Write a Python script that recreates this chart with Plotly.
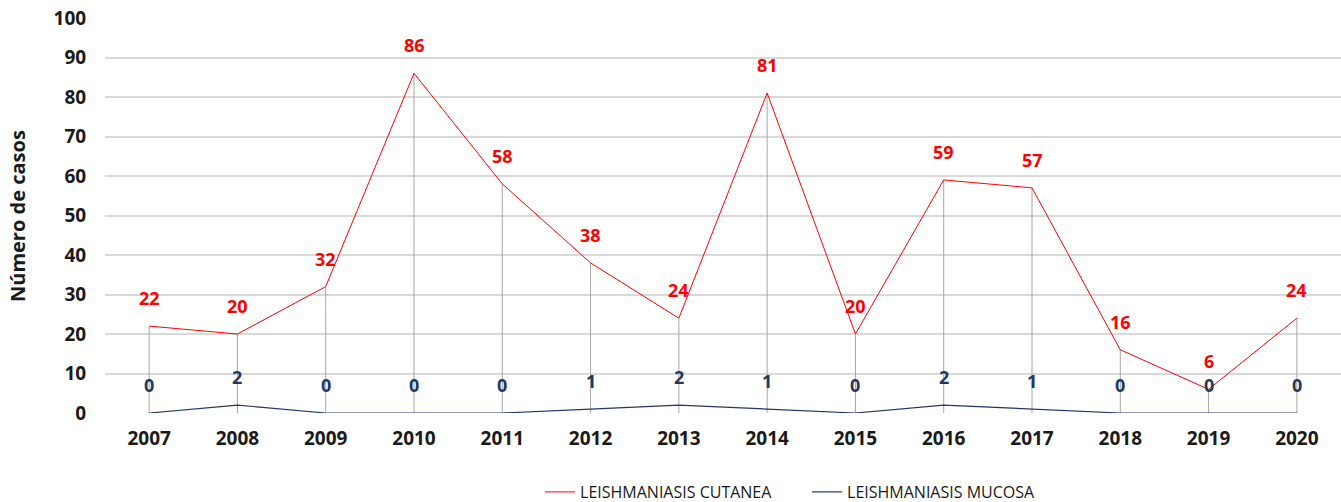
import plotly.graph_objects as go

years = ["2007", "2008", "2009", "2010", "2011", "2012", "2013", "2014",
         "2015", "2016", "2017", "2018", "2019", "2020"]
cutanea = [22, 20, 32, 86, 58, 38, 24, 81, 20, 59, 57, 16, 6, 24]
mucosa = [0, 2, 0, 0, 0, 1, 2, 1, 0, 2, 1, 0, 0, 0]
y_ticks = [0, 10, 20, 30, 40, 50, 60, 70, 80, 90, 100]

RED = "#ff0000"
NAVY = "#1f3864"
FONT = "Open Sans"
TXT = "#1a1a1a"
CLEAR = "rgba(0,0,0,0)"

xs = list(range(len(years)))

fig = go.Figure()

# drop lines
dx, dy = [], []
for i, (a, b) in enumerate(zip(cutanea, mucosa)):
    dx += [i, i, None]
    dy += [0, max(a, b), None]
fig.add_trace(go.Scatter(x=dx, y=dy, mode="lines", line=dict(color="#a6a6a6", width=1),
                         showlegend=False, hoverinfo="skip"))

fig.add_trace(go.Scatter(x=xs, y=cutanea, mode="lines", name="LEISHMANIASIS CUTANEA",
                         line=dict(color=RED, width=1)))
fig.add_trace(go.Scatter(x=xs, y=mucosa, mode="lines", name="LEISHMANIASIS MUCOSA",
                         line=dict(color=NAVY, width=1.2)))

fig.update_layout(
    width=1341, height=512,
    margin=dict(l=105, r=0, t=18, b=99),
    plot_bgcolor="white", paper_bgcolor="white",
    font=dict(family=FONT, color=TXT),
    xaxis=dict(tickmode="array", tickvals=xs, ticktext=years, range=[-0.5, 13.5],
               showgrid=False, zeroline=False, showline=False,
               ticks="outside", ticklen=8, tickcolor=CLEAR,
               tickfont=dict(size=19, color=TXT, weight="bold")),
    yaxis=dict(range=[0, 100], tickmode="array", tickvals=y_ticks, showgrid=True,
               gridcolor="#d9d9d9", gridwidth=1.5, zeroline=False, showline=False,
               ticks="outside", ticklen=14, tickcolor=CLEAR,
               tickfont=dict(size=19, color=TXT, weight="bold")),
    legend=dict(orientation="h", x=0.568, xanchor="center", y=-0.2, yanchor="middle",
                font=dict(size=16, color=TXT), traceorder="normal",
                entrywidth=222, entrywidthmode="pixels"),
    showlegend=True,
)

for i, v in enumerate(cutanea):
    fig.add_annotation(x=i, y=v, text=str(v), showarrow=False, yshift=28,
                       font=dict(family=FONT, size=18, color=RED, weight="bold"))
for i, v in enumerate(mucosa):
    fig.add_annotation(x=i, y=v, text=str(v), showarrow=False, yshift=28,
                       font=dict(family=FONT, size=18, color=NAVY, weight="bold"))

fig.add_annotation(xref="paper", yref="paper", x=-0.0708, y=0.5, text="Número de casos",
                   textangle=-90, showarrow=False, xanchor="center", yanchor="middle",
                   font=dict(family=FONT, size=20, color=TXT, weight="bold"))

fig.write_html("out.html", config={"displayModeBar": False},
               post_script="document.body.style.margin='0';document.body.style.overflow='hidden';")
